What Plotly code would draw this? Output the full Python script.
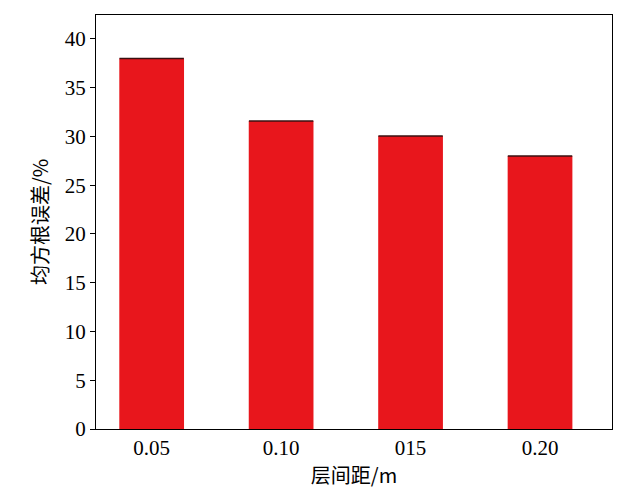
import plotly.graph_objects as go

categories = ["0.05", "0.10", "015", "0.20"]
rmse = [38.0, 31.6, 30.05, 28.0]
y_ticks = [0, 5, 10, 15, 20, 25, 30, 35, 40]

fig = go.Figure()
fig.add_trace(go.Bar(
    x=categories, y=rmse, width=0.5,
    marker=dict(color="#E8161C", line=dict(width=0)),
))
fig.add_trace(go.Scatter(
    x=categories, y=rmse, mode="markers", hoverinfo="skip",
    marker=dict(symbol="line-ew", size=46, line=dict(width=1.5, color="#3a1010")),
))

font_serif = "Liberation Serif"
font_cjk = "Noto Sans CJK SC"
fig.update_layout(
    width=634, height=488,
    margin=dict(l=88, r=30, t=7, b=67),
    paper_bgcolor="white", plot_bgcolor="white",
    showlegend=False,
    font=dict(family=font_serif, size=21, color="black"),
    xaxis=dict(
        type="category", range=[-0.43, 3.556],
        showline=True, linecolor="black", linewidth=1.2, mirror=True,
        ticks="", showgrid=False, zeroline=False,
        tickfont=dict(family=font_serif, size=21, color="black"),
        title=dict(text="层间距/m", font=dict(family=font_cjk, size=20, color="black"), standoff=6),
    ),
    yaxis=dict(
        range=[0, 42.46], tickvals=y_ticks,
        showline=True, linecolor="black", linewidth=1.2, mirror=True,
        ticks="outside", ticklen=5, tickcolor="black", tickwidth=1.2,
        showgrid=False, zeroline=False,
        tickfont=dict(family=font_serif, size=21, color="black"),
        title=dict(text="均方根误差/%", font=dict(family=font_cjk, size=20, color="black"), standoff=10),
    ),
)

fig.write_html("out.html")
